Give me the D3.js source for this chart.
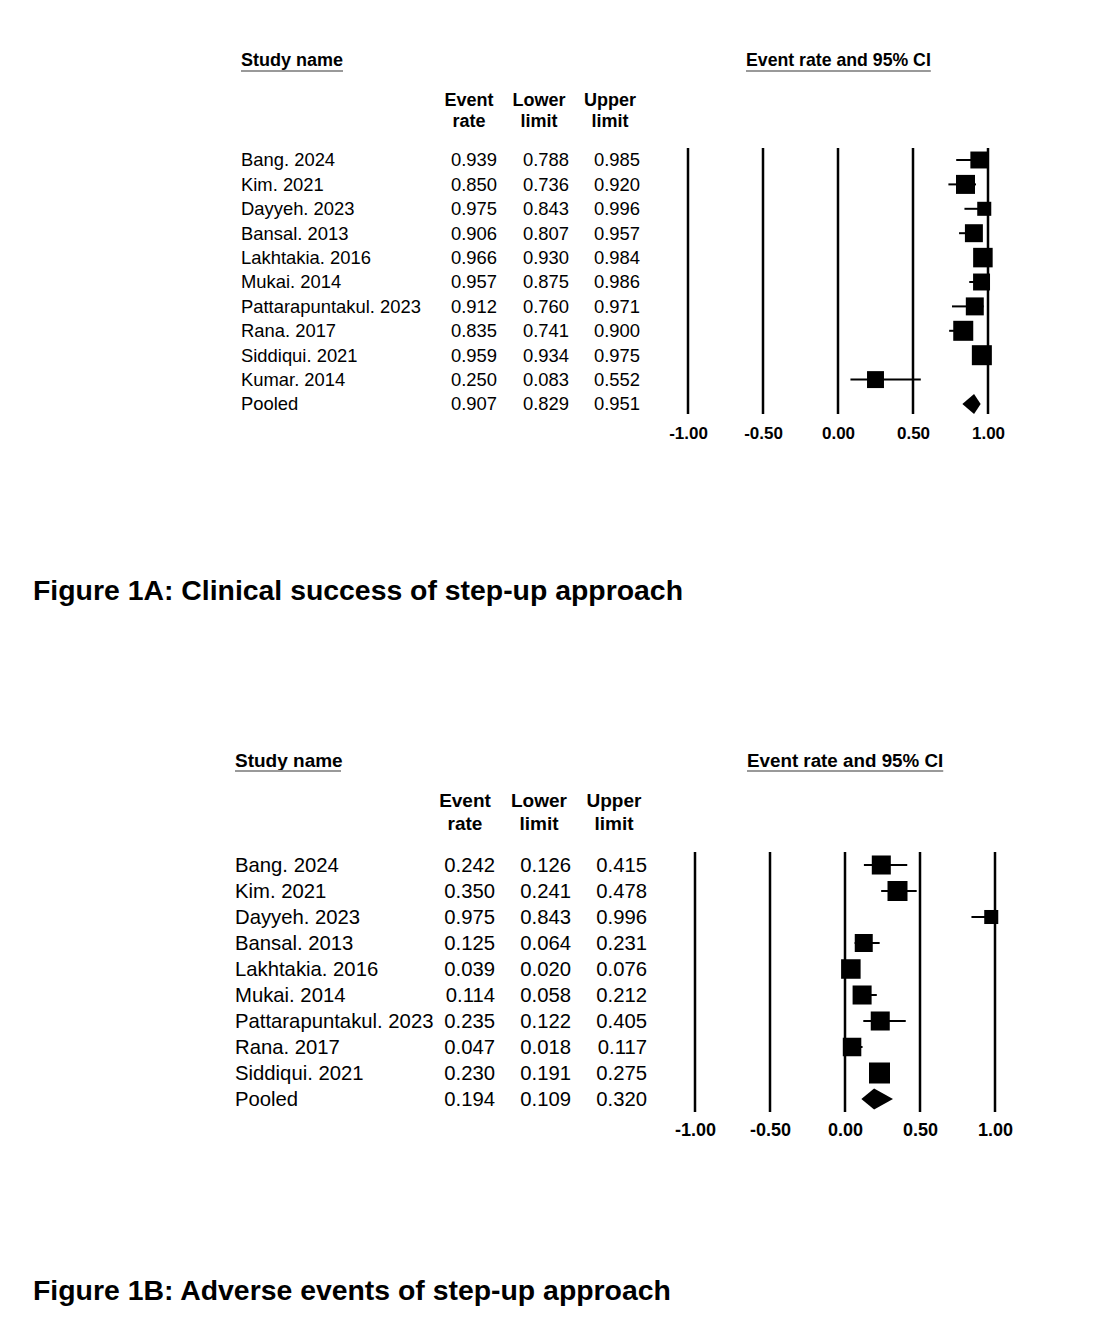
<!DOCTYPE html>
<html>
<head>
<meta charset="utf-8">
<script src="https://cdn.jsdelivr.net/npm/d3@7"></script>
<style>
  body { margin: 0; background: #fff; }
  svg { display: block; font-family: Arial, "Liberation Sans", sans-serif; }
</style>
</head>
<body>
<svg width="1094" height="1338"></svg>
<script>
// Figure 1A: clinical success
const studiesA = ["Bang. 2024", "Kim. 2021", "Dayyeh. 2023", "Bansal. 2013", "Lakhtakia. 2016",
  "Mukai. 2014", "Pattarapuntakul. 2023", "Rana. 2017", "Siddiqui. 2021", "Kumar. 2014", "Pooled"];
const rateA = [0.939, 0.850, 0.975, 0.906, 0.966, 0.957, 0.912, 0.835, 0.959, 0.250, 0.907];
const lowerA = [0.788, 0.736, 0.843, 0.807, 0.930, 0.875, 0.760, 0.741, 0.934, 0.083, 0.829];
const upperA = [0.985, 0.920, 0.996, 0.957, 0.984, 0.986, 0.971, 0.900, 0.975, 0.552, 0.951];
const weightA = [8.9, 11.2, 6.1, 10.0, 11.8, 8.9, 10.0, 12.4, 12.4, 8.9];

// Figure 1B: adverse events
const studiesB = ["Bang. 2024", "Kim. 2021", "Dayyeh. 2023", "Bansal. 2013", "Lakhtakia. 2016",
  "Mukai. 2014", "Pattarapuntakul. 2023", "Rana. 2017", "Siddiqui. 2021", "Pooled"];
const rateB = [0.242, 0.350, 0.975, 0.125, 0.039, 0.114, 0.235, 0.047, 0.230, 0.194];
const lowerB = [0.126, 0.241, 0.843, 0.064, 0.020, 0.058, 0.122, 0.018, 0.191, 0.109];
const upperB = [0.415, 0.478, 0.996, 0.231, 0.076, 0.212, 0.405, 0.117, 0.275, 0.320];
const weightB = [11.4, 12.6, 6.2, 10.2, 12.0, 11.4, 11.4, 10.8, 13.9];

const tickValues = [-1, -0.5, 0, 0.5, 1];
const captions = ["Figure 1A: Clinical success of step-up approach", "Figure 1B: Adverse events of step-up approach"];

const svg = d3.select("svg");

function forest(opt) {
  const { studies, rate, lower, upper, weight } = opt;
  const g = svg.append("g");
  const rows = studies.map((s, i) => ({ name: s, rate: rate[i], lower: lower[i], upper: upper[i], w: weight[i], pooled: s === "Pooled" }));

  const y = d3.scalePoint().domain(studies).range(opt.rowRange);
  const x = d3.scaleLinear().domain([-1, 1]).range(opt.xRange);
  const box = d3.scaleSqrt().domain([0, d3.max(weight)]).range([0, opt.maxBox]);

  // headers
  g.append("text").attr("x", opt.nameX).attr("y", opt.titleY).attr("dy", "0.35em")
    .attr("font-size", opt.headSize).attr("font-weight", "bold").text("Study name");
  g.append("line").attr("x1", opt.nameX).attr("x2", opt.nameX + opt.nameUnder)
    .attr("y1", opt.underY).attr("y2", opt.underY).attr("stroke", "#999").attr("stroke-width", 2);

  const ciTitle = g.append("text").attr("x", opt.ciTitleX).attr("y", opt.titleY).attr("dy", "0.35em")
    .attr("font-size", opt.ciHeadSize).attr("font-weight", "bold").text("Event rate and 95% CI");
  const tw = ciTitle.node().getComputedTextLength();
  g.append("line").attr("x1", opt.ciTitleX).attr("x2", opt.ciTitleX + tw)
    .attr("y1", opt.underY).attr("y2", opt.underY).attr("stroke", "#999").attr("stroke-width", 2);

  const heads = [["Event", "rate"], ["Lower", "limit"], ["Upper", "limit"]];
  heads.forEach((h, i) => {
    h.forEach((t, j) => {
      g.append("text").attr("x", opt.headX[i]).attr("y", opt.headY[j]).attr("dy", "0.35em")
        .attr("text-anchor", "middle").attr("font-size", opt.colHeadSize).attr("font-weight", "bold").text(t);
    });
  });

  // table rows
  const row = g.selectAll(".row").data(rows).enter().append("g").attr("class", "row");
  row.append("text").attr("x", opt.nameX).attr("y", d => y(d.name)).attr("dy", "0.35em")
    .attr("font-size", opt.rowSize).text(d => d.name);
  ["rate", "lower", "upper"].forEach((k, i) => {
    row.append("text").attr("x", opt.valX[i]).attr("y", d => y(d.name)).attr("dy", "0.35em")
      .attr("text-anchor", "end").attr("font-size", opt.rowSize).text(d => d[k].toFixed(3));
  });

  // vertical reference lines
  g.selectAll(".vline").data(tickValues).enter().append("line")
    .attr("x1", d => x(d)).attr("x2", d => x(d))
    .attr("y1", opt.lineTop).attr("y2", opt.lineBottom)
    .attr("stroke", "#000").attr("stroke-width", 2.5);

  const axis = d3.axisBottom(x).tickValues(tickValues).tickFormat(d => d.toFixed(2)).tickSize(0).tickPadding(0);
  const ax = g.append("g").attr("transform", `translate(0,${opt.tickY})`).call(axis);
  ax.select(".domain").remove();
  ax.selectAll("text").attr("font-size", opt.tickSize).attr("font-weight", "bold")
    .attr("font-family", "Arial, 'Liberation Sans', sans-serif").attr("fill", "#000").attr("dy", "0.35em").attr("y", 0);

  // CI lines and squares
  const studyRows = rows.filter(d => !d.pooled);
  g.selectAll(".ci").data(studyRows).enter().append("line")
    .attr("x1", d => x(d.lower)).attr("x2", d => x(d.upper))
    .attr("y1", d => y(d.name)).attr("y2", d => y(d.name))
    .attr("stroke", "#000").attr("stroke-width", 2);
  g.selectAll(".box").data(studyRows).enter().append("rect")
    .attr("x", d => x(d.rate) - box(d.w) / 2).attr("y", d => y(d.name) - box(d.w) / 2)
    .attr("width", d => box(d.w)).attr("height", d => box(d.w)).attr("fill", "#000");

  const p = rows.find(d => d.pooled);
  const py = y(p.name), h = opt.diamondH / 2;
  g.append("path")
    .attr("d", `M${x(p.lower)},${py}L${x(p.rate)},${py - h}L${x(p.upper)},${py}L${x(p.rate)},${py + h}Z`)
    .attr("fill", "#000");

  svg.append("text").attr("x", 33).attr("y", opt.captionY).attr("dy", "0.35em")
    .attr("font-size", 28.4).attr("font-weight", "bold").text(opt.caption);
}

forest({
  studies: studiesA, rate: rateA, lower: lowerA, upper: upperA, weight: weightA,
  rowRange: [160, 404], xRange: [688, 988], maxBox: 20,
  nameX: 241, nameUnder: 102, titleY: 60, underY: 71, ciTitleX: 746,
  headSize: 18, ciHeadSize: 17.7, colHeadSize: 18, rowSize: 18.4, tickSize: 17,
  headX: [469, 539, 610], headY: [100, 121], valX: [497, 569, 640],
  lineTop: 148, lineBottom: 414, tickY: 433, diamondH: 20,
  captionY: 590, caption: captions[0]
});

forest({
  studies: studiesB, rate: rateB, lower: lowerB, upper: upperB, weight: weightB,
  rowRange: [865, 1099], xRange: [695, 995], maxBox: 21,
  nameX: 235, nameUnder: 106, titleY: 760, underY: 771, ciTitleX: 747,
  headSize: 19, ciHeadSize: 18.8, colHeadSize: 19, rowSize: 20.3, tickSize: 18,
  headX: [465, 539, 614], headY: [800, 823], valX: [495, 571, 647],
  lineTop: 852, lineBottom: 1112, tickY: 1130, diamondH: 21,
  captionY: 1290, caption: captions[1]
});
</script>
</body>
</html>
